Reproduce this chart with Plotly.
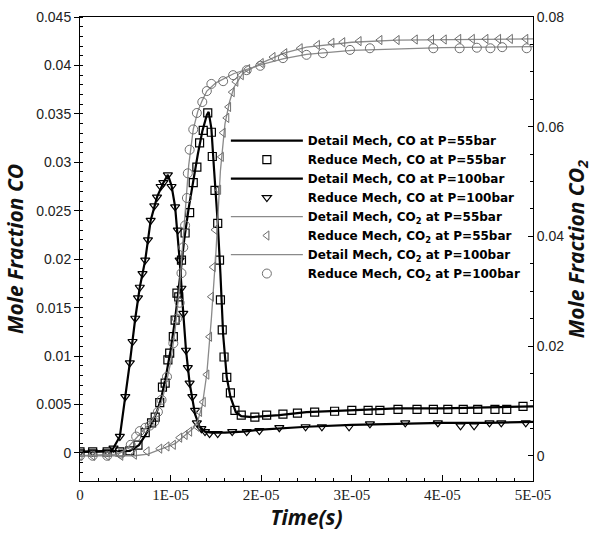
import plotly.graph_objects as go

# ---------------- data (time in units of 1E-05 s) ----------------
# Detail Mech, CO at P=55bar (left axis)
t_co55 = [0, 0.55, 0.65, 0.72, 0.79, 0.85, 0.90, 0.95, 1.00, 1.05, 1.10, 1.15, 1.20, 1.25, 1.30, 1.35, 1.40, 1.42,
          1.45, 1.48, 1.52, 1.55, 1.58, 1.62, 1.66, 1.72, 1.78, 1.90, 2.20, 2.50, 3.00, 3.50, 4.00, 4.50, 5.00]
co55 = [0.0001, 0.0002, 0.0008, 0.0018, 0.0030, 0.0043, 0.0058, 0.0080, 0.0106, 0.0138, 0.0178, 0.0220, 0.0253,
        0.0283, 0.0308, 0.0332, 0.0349, 0.0352, 0.0335, 0.0292, 0.0238, 0.0185, 0.0122, 0.0078, 0.0058, 0.0042,
        0.0038, 0.0037, 0.0039, 0.0042, 0.0044, 0.0046, 0.0046, 0.0047, 0.0048]
# Reduce Mech, CO at P=55bar
t_co55_r = [0, 0.14, 0.30, 0.44, 0.55, 0.64, 0.72, 0.79, 0.83, 0.88, 0.91, 0.94, 0.97, 0.99, 1.03, 1.05, 1.07, 1.09,
            1.12, 1.16, 1.21, 1.25, 1.29, 1.32, 1.36, 1.41, 1.45, 1.46, 1.49, 1.52, 1.54, 1.55, 1.57, 1.59, 1.62,
            1.66, 1.71, 1.78, 1.93, 2.06, 2.24, 2.40, 2.59, 2.81, 3.00, 3.18, 3.31, 3.51, 3.72, 3.90, 4.06, 4.23,
            4.39, 4.58, 4.71, 4.89]
co55_r = [0.0001, 0.0001, 0.0001, 0.0001, 0.0002, 0.0008, 0.0021, 0.0031, 0.0037, 0.0052, 0.0068, 0.0072, 0.0096,
          0.0103, 0.0120, 0.0137, 0.0165, 0.0161, 0.0199, 0.0227, 0.0248, 0.0279, 0.0295, 0.0320, 0.0333, 0.0351,
          0.0331, 0.0306, 0.0271, 0.0237, 0.0199, 0.0158, 0.0127, 0.0099, 0.0078, 0.0062, 0.0044, 0.0039, 0.0037,
          0.0039, 0.0040, 0.0041, 0.0042, 0.0043, 0.0044, 0.0044, 0.0044, 0.0045, 0.0045, 0.0045, 0.0045, 0.0045,
          0.0045, 0.0045, 0.0045, 0.0048]

# Detail Mech, CO at P=100bar (left axis)
t_co100 = [0, 0.35, 0.44, 0.50, 0.55, 0.61, 0.66, 0.72, 0.78, 0.85, 0.92, 0.97, 1.01, 1.05, 1.10, 1.14, 1.17, 1.21,
           1.27, 1.32, 1.38, 1.45, 1.60, 1.80, 2.00, 2.50, 3.00, 3.50, 4.00, 4.50, 5.00]
co100 = [0.0001, 0.0002, 0.0017, 0.0058, 0.0093, 0.0139, 0.0171, 0.0199, 0.0240, 0.0264, 0.0279, 0.0287, 0.0276,
         0.0254, 0.0199, 0.0144, 0.0106, 0.0072, 0.0040, 0.0027, 0.0022, 0.0021, 0.0021, 0.0022, 0.0024, 0.0027,
         0.0029, 0.0030, 0.0031, 0.0031, 0.0032]
# Reduce Mech, CO at P=100bar
t_co100_r = [0, 0.14, 0.30, 0.37, 0.44, 0.50, 0.55, 0.58, 0.61, 0.64, 0.66, 0.69, 0.72, 0.75, 0.78, 0.82, 0.85,
             0.89, 0.92, 0.97, 1.01, 1.05, 1.08, 1.10, 1.12, 1.14, 1.17, 1.19, 1.21, 1.24, 1.27, 1.29, 1.34, 1.38,
             1.43, 1.52, 1.68, 1.84, 1.98, 2.20, 2.49, 2.67, 2.97, 3.20, 3.59, 3.95, 4.20, 4.35, 4.52, 4.65, 4.92]
co100_r = [0.0001, 0.0001, 0.0001, 0.0005, 0.0017, 0.0058, 0.0093, 0.0115, 0.0139, 0.0160, 0.0171, 0.0185, 0.0199,
           0.0220, 0.0240, 0.0255, 0.0264, 0.0275, 0.0279, 0.0287, 0.0275, 0.0254, 0.0230, 0.0199, 0.0170, 0.0144,
           0.0106, 0.0088, 0.0072, 0.0058, 0.0044, 0.0031, 0.0025, 0.0022, 0.0020, 0.0020, 0.0022, 0.0022, 0.0023,
           0.0026, 0.0027, 0.0027, 0.0027, 0.0030, 0.0031, 0.0031, 0.0028, 0.0028, 0.0031, 0.0031, 0.0031]

# Detail Mech, CO2 at P=55bar (right axis)
t_co2_55 = [0, 0.60, 0.75, 0.90, 1.05, 1.15, 1.25, 1.30, 1.35, 1.40, 1.45, 1.50, 1.55, 1.60, 1.65, 1.70, 1.80,
            2.00, 2.25, 2.50, 3.00, 3.50, 4.00, 4.50, 5.00]
co2_55 = [0.0, 0.0, 0.0003, 0.0012, 0.0022, 0.0036, 0.0050, 0.0064, 0.0092, 0.0150, 0.0250, 0.0370, 0.0520, 0.0605,
          0.0645, 0.0672, 0.0698, 0.0716, 0.0734, 0.0745, 0.0754, 0.0758, 0.0759, 0.0760, 0.0760]
# Reduce Mech, CO2 at P=55bar
t_co2_55_r = [0, 0.14, 0.30, 0.45, 0.60, 0.74, 0.88, 0.96, 1.03, 1.10, 1.16, 1.21, 1.29, 1.32, 1.36, 1.40, 1.43,
              1.45, 1.47, 1.49, 1.53, 1.56, 1.58, 1.62, 1.64, 1.68, 1.72, 1.78, 1.85, 2.00, 2.13, 2.26, 2.43, 2.62,
              2.78, 2.90, 3.08, 3.31, 3.50, 3.70, 3.88, 4.02, 4.18, 4.33, 4.48, 4.62, 4.75, 4.92]
co2_55_r = [0.0, 0.0, 0.0, 0.0, 0.0002, 0.0008, 0.0013, 0.0017, 0.0020, 0.0033, 0.0038, 0.0044, 0.0053, 0.0080,
            0.0098, 0.0148, 0.0217, 0.0290, 0.0344, 0.0412, 0.0485, 0.0545, 0.0589, 0.0616, 0.0636, 0.0663, 0.0682,
            0.0694, 0.0705, 0.0716, 0.0727, 0.0734, 0.0743, 0.0749, 0.0753, 0.0754, 0.0756, 0.0758, 0.0758, 0.0759,
            0.0759, 0.0759, 0.0760, 0.0760, 0.0760, 0.0760, 0.0760, 0.0760]

# Detail Mech, CO2 at P=100bar (right axis)
t_co2_100 = [0, 0.40, 0.50, 0.60, 0.70, 0.80, 0.90, 0.95, 1.00, 1.05, 1.10, 1.15, 1.20, 1.25, 1.30, 1.35, 1.40,
             1.50, 1.60, 1.70, 1.85, 2.00, 2.25, 2.50, 3.00, 3.50, 4.00, 4.50, 5.00]
co2_100 = [0.0, 0.0003, 0.0010, 0.0028, 0.0048, 0.0065, 0.0098, 0.0130, 0.0170, 0.0230, 0.0310, 0.0420, 0.0530,
           0.0595, 0.0628, 0.0648, 0.0665, 0.0680, 0.0688, 0.0697, 0.0705, 0.0713, 0.0724, 0.0732, 0.0739, 0.0742,
           0.0744, 0.0745, 0.0746]
# Reduce Mech, CO2 at P=100bar
t_co2_100_r = [0, 0.14, 0.30, 0.45, 0.56, 0.62, 0.66, 0.72, 0.77, 0.82, 0.86, 0.90, 0.96, 1.03, 1.07, 1.10, 1.12,
               1.14, 1.16, 1.18, 1.19, 1.21, 1.25, 1.29, 1.35, 1.40, 1.45, 1.58, 1.69, 1.84, 1.99, 2.24, 2.50, 2.68,
               2.98, 3.20, 3.90, 4.19, 4.38, 4.53, 4.66, 4.93]
co2_100_r = [0.0, 0.0, 0.0, 0.0004, 0.0020, 0.0035, 0.0045, 0.0051, 0.0055, 0.0062, 0.0080, 0.0102, 0.0144,
             0.0205, 0.0250, 0.0279, 0.0333, 0.0380, 0.0420, 0.0470, 0.0515, 0.0558, 0.0595, 0.0625, 0.0645, 0.0665,
             0.0678, 0.0683, 0.0694, 0.0703, 0.0711, 0.0725, 0.0731, 0.0734, 0.0740, 0.0743, 0.0743, 0.0743, 0.0744,
             0.0743, 0.0745, 0.0743]

x_tick_vals = [0, 1e-5, 2e-5, 3e-5, 4e-5, 5e-5]
x_tick_text = ["0", "1E-05", "2E-05", "3E-05", "4E-05", "5E-05"]
y_tick_vals = [0, 0.005, 0.01, 0.015, 0.02, 0.025, 0.03, 0.035, 0.04, 0.045]
y_tick_text = ["0", "0.005", "0.01", "0.015", "0.02", "0.025", "0.03", "0.035", "0.04", "0.045"]
y2_tick_vals = [0, 0.02, 0.04, 0.06, 0.08]
y2_tick_text = ["0", "0.02", "0.04", "0.06", "0.08"]


def sec(ts):
    return [v * 1e-5 for v in ts]


BLACK = "#000000"
GRAY = "#8a8a8a"
MGRAY = "#6e6e6e"

fig = go.Figure()

# draw CO2 first (underneath), then CO
fig.add_trace(go.Scatter(x=sec(t_co2_55), y=co2_55, yaxis="y2", mode="lines",
                         line=dict(color=GRAY, width=1.3), name="Detail Mech, CO<sub>2</sub> at P=55bar",
                         legendrank=5))
fig.add_trace(go.Scatter(x=sec(t_co2_55_r), y=co2_55_r, yaxis="y2", mode="markers",
                         marker=dict(symbol="triangle-left-open", size=8, color=MGRAY, line=dict(width=1)),
                         name="Reduce Mech, CO<sub>2</sub> at P=55bar", legendrank=6))
fig.add_trace(go.Scatter(x=sec(t_co2_100), y=co2_100, yaxis="y2", mode="lines",
                         line=dict(color=GRAY, width=1.3), name="Detail Mech, CO<sub>2</sub> at P=100bar",
                         legendrank=7))
fig.add_trace(go.Scatter(x=sec(t_co2_100_r), y=co2_100_r, yaxis="y2", mode="markers",
                         marker=dict(symbol="circle-open", size=9, color=MGRAY, line=dict(width=1)),
                         name="Reduce Mech, CO<sub>2</sub> at P=100bar", legendrank=8))

fig.add_trace(go.Scatter(x=sec(t_co55), y=co55, mode="lines",
                         line=dict(color=BLACK, width=2.2), name="Detail Mech, CO at P=55bar", legendrank=1))
fig.add_trace(go.Scatter(x=sec(t_co55_r), y=co55_r, mode="markers",
                         marker=dict(symbol="square-open", size=8, color=BLACK, line=dict(width=1.2)),
                         name="Reduce Mech, CO at P=55bar", legendrank=2))
fig.add_trace(go.Scatter(x=sec(t_co100), y=co100, mode="lines",
                         line=dict(color=BLACK, width=2.2), name="Detail Mech, CO at P=100bar", legendrank=3))
fig.add_trace(go.Scatter(x=sec(t_co100_r), y=co100_r, mode="markers",
                         marker=dict(symbol="triangle-down-open", size=8, color=BLACK, line=dict(width=1.2)),
                         name="Reduce Mech, CO at P=100bar", legendrank=4))

title_font = dict(family="Open Sans", size=21, color="#111111")
tick_sans = dict(family="Liberation Sans", size=14, color="#222222")
tick_serif = dict(family="Liberation Serif", size=15, color="#222222")

fig.update_layout(
    width=592, height=534,
    margin=dict(l=80, r=59, t=17, b=53),
    paper_bgcolor="white", plot_bgcolor="white",
    showlegend=True,
    legend=dict(x=0.322, y=0.765, xanchor="left", yanchor="top",
                bgcolor="rgba(0,0,0,0)", borderwidth=0,
                font=dict(family="DejaVu Sans", size=12, color="#000000", weight="bold"),
                itemwidth=72, tracegroupgap=0, traceorder="normal"),
    xaxis=dict(range=[0, 5e-5], tickvals=x_tick_vals, ticktext=x_tick_text, automargin=False,
               showline=True, linecolor="black", linewidth=1, mirror=True,
               ticks="inside", ticklen=6, tickcolor="black", showgrid=False, zeroline=False,
               tickfont=tick_serif,
               minor=dict(dtick=2e-6, ticks="inside", ticklen=3, tickcolor="black", showgrid=False),
               title=dict(text="<b><i>Time(s)</i></b>", font=title_font, standoff=6)),
    yaxis=dict(range=[-0.0029, 0.045], tickvals=y_tick_vals, ticktext=y_tick_text, automargin=False,
               showline=True, linecolor="black", linewidth=1, mirror=False,
               ticks="outside", ticklen=5, tickcolor="black", showgrid=False, zeroline=False,
               tickfont=tick_sans,
               minor=dict(dtick=0.001, ticks="inside", ticklen=3, tickcolor="black", showgrid=False),
               title=dict(text="<b><i>Mole Fraction CO</i></b>", font=title_font, standoff=6)),
    yaxis2=dict(range=[-0.0046, 0.08], tickvals=y2_tick_vals, ticktext=y2_tick_text, automargin=False,
                overlaying="y", side="right", anchor="x",
                showline=True, linecolor="black", linewidth=1,
                ticks="inside", ticklen=5, tickcolor="black", showgrid=False, zeroline=False,
                tickfont=tick_sans,
                minor=dict(dtick=0.005, ticks="inside", ticklen=3, tickcolor="black", showgrid=False),
                title=dict(text="<b><i>Mole Fraction CO<sub>2</sub></i></b>", font=title_font, standoff=6)),
)

fig.write_html("out.html")
